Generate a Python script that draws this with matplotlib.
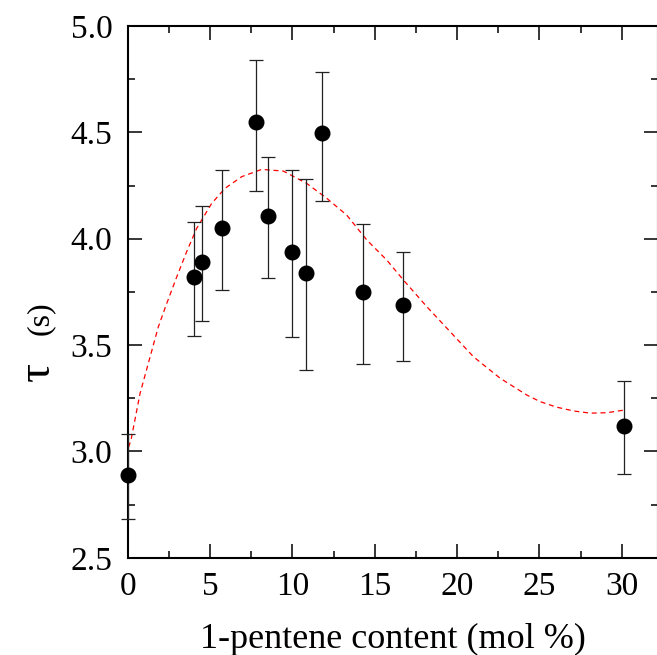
import numpy as np
import matplotlib
matplotlib.use("Agg")
import matplotlib.pyplot as plt
from matplotlib.ticker import MultipleLocator

content = [0.0, 4.05, 4.53, 5.73, 7.81, 8.52, 10.0, 10.83, 11.82, 14.31, 16.73, 30.11]
tau     = [2.889, 3.820, 3.889, 4.049, 4.547, 4.108, 3.939, 3.839, 4.498, 3.748, 3.688, 3.119]
tau_hi  = [3.083, 4.077, 4.152, 4.323, 4.842, 4.386, 4.323, 4.279, 4.784, 4.071, 3.939, 3.330]
tau_lo  = [2.682, 3.544, 3.612, 3.759, 4.224, 3.814, 3.538, 3.383, 4.179, 3.412, 3.425, 2.894]

# dashed guide curve
fit_x = [0.05, 0.2, 0.75, 1.25, 1.86, 2.37, 2.98, 3.58, 4.19, 5.10, 5.91, 6.93, 8.14,
         9.45, 10.87, 12.09, 13.3, 14.52, 15.73, 16.74, 18.17, 19.58, 21.0, 22.62,
         24.24, 25.05, 26.06, 27.1, 28.09, 29.1, 30.21]
fit_y = [3.02, 3.054, 3.273, 3.414, 3.586, 3.696, 3.821, 3.939, 4.049, 4.166, 4.237,
         4.292, 4.326, 4.318, 4.260, 4.190, 4.111, 3.994, 3.900, 3.806, 3.680, 3.563,
         3.445, 3.344, 3.265, 3.234, 3.208, 3.190, 3.180, 3.182, 3.195]

plt.rcParams["font.family"] = ["Liberation Serif", "DejaVu Serif"]

fig = plt.figure(figsize=(6.57, 6.55), dpi=100)
ax = fig.add_axes([0.1944, 0.1484, 0.8070, 0.8119])

ax.plot(fit_x, fit_y, ls=(0, (4, 3)), color="red", lw=0.9, zorder=2)

y = np.array(tau)
yerr = [y - np.array(tau_lo), np.array(tau_hi) - y]
ax.errorbar(content, tau, yerr=yerr, fmt="o", color="black", ms=10.5,
            ecolor="#222222", elinewidth=0.9, capsize=5, capthick=0.9,
            clip_on=False, zorder=3)

ax.set_xlim(0, 32.2)
ax.set_ylim(2.5, 5.0)
ax.xaxis.set_major_locator(MultipleLocator(5))
ax.xaxis.set_minor_locator(MultipleLocator(2.5))
ax.yaxis.set_major_locator(MultipleLocator(0.5))
ax.yaxis.set_minor_locator(MultipleLocator(0.25))
ax.yaxis.set_major_formatter(matplotlib.ticker.FormatStrFormatter("%.1f"))

ax.tick_params(which="both", direction="in", top=True, right=True, width=1.1, labelsize=24)
ax.tick_params(which="major", length=10)
ax.tick_params(which="minor", length=5)
ax.tick_params(axis="y", pad=11)
ax.tick_params(axis="x", pad=10)
for s in ax.spines.values():
    s.set_linewidth(1.5)

ax.set_xlabel("1-pentene content (mol %)", fontsize=26, labelpad=15)
fig.text(0.058, 0.433, "τ", rotation=90, fontsize=34, ha="center", va="center")
fig.text(0.061, 0.5145, "(s)", rotation=90, fontsize=23, ha="center", va="center")

fig.savefig("out.png", dpi=100)
